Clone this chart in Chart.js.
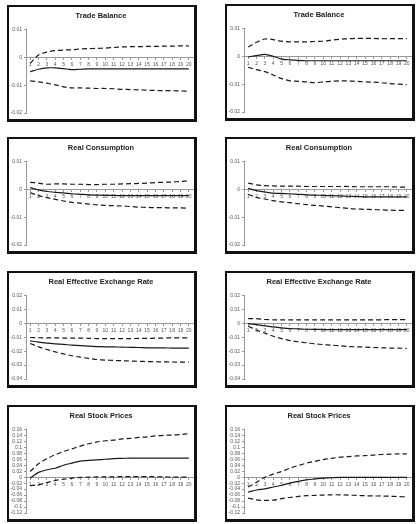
<!DOCTYPE html>
<html>
<head>
<meta charset="utf-8">
<script src="https://cdn.jsdelivr.net/npm/chart.js@4"></script>
<style>
body { margin:0; background:#fff; }
.panel { position:absolute; width:190px; height:117px; box-sizing:border-box; border-style:solid; border-color:#111; border-width:2px 3px 3px 2px; background:#fff; }
.panel canvas { position:absolute; left:0; top:0; }
</style>
</head>
<body>
<div class="panel" style="left:7px;top:5px"><canvas id="c1" width="185" height="112"></canvas></div>
<div class="panel" style="left:225px;top:4px"><canvas id="c2" width="185" height="112"></canvas></div>
<div class="panel" style="left:7px;top:137px"><canvas id="c3" width="185" height="112"></canvas></div>
<div class="panel" style="left:225px;top:137px"><canvas id="c4" width="185" height="112"></canvas></div>
<div class="panel" style="left:7px;top:271px"><canvas id="c5" width="185" height="112"></canvas></div>
<div class="panel" style="left:225px;top:271px"><canvas id="c6" width="185" height="112"></canvas></div>
<div class="panel" style="left:7px;top:405px"><canvas id="c7" width="185" height="112"></canvas></div>
<div class="panel" style="left:225px;top:405px"><canvas id="c8" width="185" height="112"></canvas></div>
<script>
var periods = ['1','2','3','4','5','6','7','8','9','10','11','12','13','14','15','16','17','18','19','20'];

// trade balance
var tradeL_hi  = [-0.0022, 0.0008, 0.0019, 0.0024, 0.0026, 0.0027, 0.0030, 0.0031, 0.0032, 0.0033, 0.0035, 0.0037, 0.0038, 0.0038, 0.0039, 0.0039, 0.0040, 0.0040, 0.0041, 0.0041];
var tradeL_mid = [-0.0052, -0.0043, -0.0038, -0.0038, -0.0041, -0.0044, -0.0043, -0.0042, -0.0042, -0.0042, -0.0042, -0.0042, -0.0042, -0.0042, -0.0042, -0.0042, -0.0042, -0.0042, -0.0042, -0.0042];
var tradeL_lo  = [-0.0085, -0.0088, -0.0093, -0.0099, -0.0106, -0.0110, -0.0110, -0.0111, -0.0112, -0.0112, -0.0113, -0.0115, -0.0116, -0.0117, -0.0118, -0.0119, -0.0120, -0.0120, -0.0121, -0.0122];
var tradeR_hi  = [0.0033, 0.0050, 0.0062, 0.0060, 0.0054, 0.0052, 0.0052, 0.0052, 0.0053, 0.0054, 0.0058, 0.0061, 0.0063, 0.0064, 0.0064, 0.0064, 0.0063, 0.0063, 0.0063, 0.0063];
var tradeR_mid = [-0.0002, 0.0002, 0.0007, 0.0000, -0.0010, -0.0013, -0.0015, -0.0016, -0.0016, -0.0016, -0.0016, -0.0016, -0.0016, -0.0016, -0.0016, -0.0016, -0.0016, -0.0016, -0.0016, -0.0016];
var tradeR_lo  = [-0.0040, -0.0048, -0.0055, -0.0067, -0.0080, -0.0088, -0.0090, -0.0092, -0.0095, -0.0092, -0.0090, -0.0088, -0.0089, -0.0090, -0.0092, -0.0093, -0.0095, -0.0098, -0.0100, -0.0102];

// real consumption
var consL_hi  = [0.0025, 0.0022, 0.0018, 0.0019, 0.0019, 0.0018, 0.0018, 0.0017, 0.0017, 0.0018, 0.0018, 0.0019, 0.0020, 0.0021, 0.0022, 0.0024, 0.0025, 0.0026, 0.0028, 0.0030];
var consL_mid = [0.0006, -0.0002, -0.0008, -0.0011, -0.0013, -0.0016, -0.0018, -0.0020, -0.0021, -0.0022, -0.0022, -0.0023, -0.0023, -0.0023, -0.0023, -0.0023, -0.0023, -0.0023, -0.0023, -0.0023];
var consL_lo  = [-0.0012, -0.0023, -0.0030, -0.0036, -0.0042, -0.0047, -0.0050, -0.0053, -0.0056, -0.0058, -0.0059, -0.0060, -0.0062, -0.0064, -0.0065, -0.0066, -0.0066, -0.0067, -0.0067, -0.0068];
var consR_hi  = [0.0022, 0.0016, 0.0013, 0.0012, 0.0011, 0.0011, 0.0011, 0.0010, 0.0010, 0.0010, 0.0010, 0.0010, 0.0010, 0.0009, 0.0009, 0.0009, 0.0009, 0.0009, 0.0008, 0.0008];
var consR_mid = [0.0003, -0.0005, -0.0010, -0.0014, -0.0015, -0.0016, -0.0018, -0.0020, -0.0021, -0.0022, -0.0023, -0.0024, -0.0025, -0.0026, -0.0027, -0.0027, -0.0027, -0.0027, -0.0027, -0.0027];
var consR_lo  = [-0.0018, -0.0029, -0.0035, -0.0041, -0.0045, -0.0048, -0.0052, -0.0055, -0.0058, -0.0060, -0.0063, -0.0066, -0.0069, -0.0071, -0.0072, -0.0073, -0.0074, -0.0075, -0.0076, -0.0076];

// real effective exchange rate
var reerL_hi  = [-0.0102, -0.0104, -0.0105, -0.0105, -0.0106, -0.0106, -0.0107, -0.0108, -0.0110, -0.0110, -0.0110, -0.0110, -0.0110, -0.0109, -0.0109, -0.0107, -0.0106, -0.0105, -0.0105, -0.0105];
var reerL_mid = [-0.0126, -0.0136, -0.0143, -0.0148, -0.0152, -0.0157, -0.0160, -0.0164, -0.0167, -0.0169, -0.0170, -0.0171, -0.0173, -0.0174, -0.0176, -0.0176, -0.0177, -0.0178, -0.0178, -0.0178];
var reerL_lo  = [-0.0145, -0.0169, -0.0188, -0.0205, -0.0220, -0.0233, -0.0243, -0.0252, -0.0260, -0.0264, -0.0267, -0.0269, -0.0271, -0.0273, -0.0275, -0.0276, -0.0277, -0.0278, -0.0279, -0.0279];
var reerR_hi  = [0.0034, 0.0033, 0.0027, 0.0025, 0.0024, 0.0024, 0.0024, 0.0024, 0.0024, 0.0024, 0.0024, 0.0024, 0.0024, 0.0024, 0.0024, 0.0025, 0.0025, 0.0026, 0.0026, 0.0026];
var reerR_mid = [-0.0002, -0.0010, -0.0019, -0.0026, -0.0033, -0.0038, -0.0040, -0.0043, -0.0044, -0.0045, -0.0045, -0.0045, -0.0045, -0.0045, -0.0045, -0.0045, -0.0045, -0.0045, -0.0045, -0.0045];
var reerR_lo  = [-0.0021, -0.0048, -0.0071, -0.0093, -0.0110, -0.0124, -0.0133, -0.0140, -0.0148, -0.0153, -0.0157, -0.0162, -0.0167, -0.0169, -0.0171, -0.0174, -0.0176, -0.0178, -0.0179, -0.0180];

// real stock prices
var stockL_hi  = [0.019, 0.045, 0.062, 0.075, 0.086, 0.095, 0.104, 0.112, 0.118, 0.122, 0.124, 0.128, 0.130, 0.133, 0.135, 0.138, 0.140, 0.141, 0.143, 0.146];
var stockL_mid = [-0.003, 0.016, 0.025, 0.030, 0.040, 0.047, 0.054, 0.056, 0.058, 0.060, 0.062, 0.063, 0.064, 0.064, 0.064, 0.064, 0.064, 0.064, 0.064, 0.064];
var stockL_lo  = [-0.028, -0.025, -0.018, -0.011, -0.007, -0.003, -0.001, 0.000, 0.001, 0.001, 0.001, 0.002, 0.002, 0.002, 0.002, 0.001, 0.001, 0.000, 0.000, 0.000];
var stockR_hi  = [-0.033, -0.017, 0.000, 0.010, 0.019, 0.030, 0.039, 0.047, 0.053, 0.059, 0.063, 0.067, 0.069, 0.071, 0.072, 0.074, 0.076, 0.077, 0.078, 0.078];
var stockR_mid = [-0.050, -0.043, -0.039, -0.033, -0.027, -0.020, -0.014, -0.009, -0.006, -0.003, -0.002, -0.001, -0.001, -0.001, -0.001, -0.001, -0.001, -0.001, -0.001, -0.001];
var stockR_lo  = [-0.070, -0.076, -0.078, -0.077, -0.072, -0.068, -0.064, -0.062, -0.061, -0.060, -0.059, -0.059, -0.060, -0.061, -0.062, -0.063, -0.063, -0.064, -0.065, -0.066];

var FONT = "'Liberation Sans', Arial, sans-serif";

function band(values, dashed) {
    return {
        data: values,
        borderColor: '#1a1a1a',
        borderWidth: 1.2,
        borderDash: dashed ? [5, 3] : [],
        pointRadius: 0,
        tension: 0.3,
        fill: false
    };
}

function drawPanel(id, title, hi, mid, lo, yMin, yMax, yStep) {
    var ctx = document.getElementById(id).getContext('2d');
    return new Chart(ctx, {
        type: 'line',
        data: {
            labels: periods,
            datasets: [band(hi, true), band(mid, false), band(lo, true)]
        },
        options: {
            responsive: false,
            animation: false,
            layout: { padding: { left: 0, right: 1, top: 0, bottom: 6 } },
            plugins: {
                legend: { display: false },
                tooltip: { enabled: false },
                title: {
                    display: true,
                    text: title,
                    color: '#222',
                    font: { family: FONT, size: 7.5, weight: 'bold' },
                    padding: { top: 4, bottom: 9.4 }
                }
            },
            scales: {
                x: {
                    position: { y: 0 },
                    offset: true,
                    grid: { drawOnChartArea: false, tickLength: 2, color: '#999' },
                    border: { color: '#999', width: 1 },
                    ticks: { color: '#555', font: { family: FONT, size: 5 }, padding: 2, maxRotation: 0, autoSkip: false }
                },
                y: {
                    min: yMin,
                    max: yMax,
                    afterFit: function(s) { s.width = 17; },
                    grid: { drawOnChartArea: false, tickLength: 2, color: '#999' },
                    border: { color: '#999', width: 1 },
                    ticks: {
                        stepSize: yStep,
                        autoSkip: false,
                        color: '#555',
                        font: { family: FONT, size: 5 },
                        padding: 2,
                        callback: function(v) { return String(parseFloat(v.toFixed(3))); }
                    }
                }
            }
        }
    });
}

drawPanel('c1', 'Trade Balance', tradeL_hi, tradeL_mid, tradeL_lo, -0.02, 0.01, 0.01);
drawPanel('c2', 'Trade Balance', tradeR_hi, tradeR_mid, tradeR_lo, -0.02, 0.01, 0.01);
drawPanel('c3', 'Real Consumption', consL_hi, consL_mid, consL_lo, -0.02, 0.01, 0.01);
drawPanel('c4', 'Real Consumption', consR_hi, consR_mid, consR_lo, -0.02, 0.01, 0.01);
drawPanel('c5', 'Real Effective Exchange Rate', reerL_hi, reerL_mid, reerL_lo, -0.04, 0.02, 0.01);
drawPanel('c6', 'Real Effective Exchange Rate', reerR_hi, reerR_mid, reerR_lo, -0.04, 0.02, 0.01);
drawPanel('c7', 'Real Stock Prices', stockL_hi, stockL_mid, stockL_lo, -0.12, 0.16, 0.02);
drawPanel('c8', 'Real Stock Prices', stockR_hi, stockR_mid, stockR_lo, -0.12, 0.16, 0.02);
</script>
</body>
</html>
